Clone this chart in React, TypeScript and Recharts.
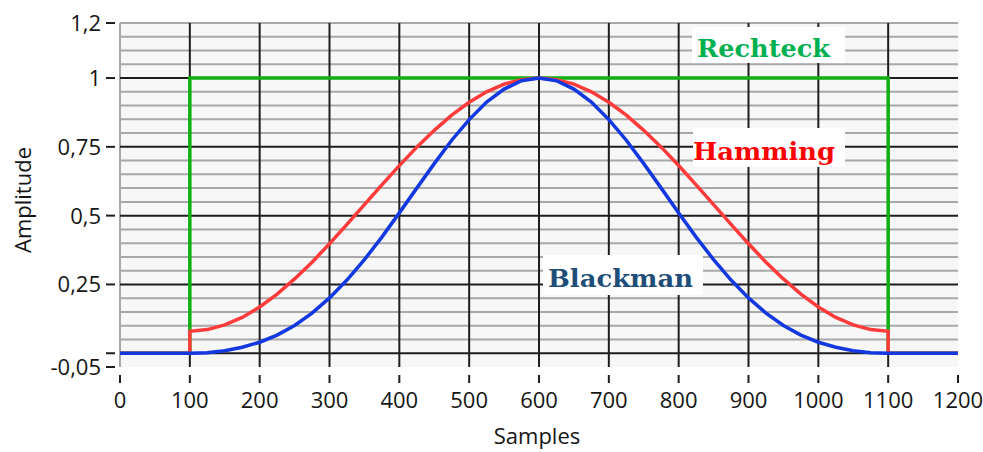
import React from 'react';
import { LineChart, Line, XAxis, YAxis, CartesianGrid } from 'recharts';

// ---- data ----
const xTicks = [0, 100, 200, 300, 400, 500, 600, 700, 800, 900, 1000, 1100, 1200];
const yTicks = [-0.05, 0, 0.25, 0.5, 0.75, 1, 1.2];
const minorY = [0.05, 0.1, 0.15, 0.2, 0.3, 0.35, 0.4, 0.45, 0.55, 0.6, 0.65, 0.7, 0.8, 0.85, 0.9, 0.95, 1.05, 1.1, 1.15, 1.2];
const majorY = [0, 0.25, 0.5, 0.75, 1];
const majorX = [100, 200, 300, 400, 500, 600, 700, 800, 900, 1000, 1100];

const rechteckX = [0, 100, 100, 1100, 1100, 1200];
const rechteckY = [0, 0, 1, 1, 0, 0];

const curveX = [100, 125, 150, 175, 200, 225, 250, 275, 300, 325, 350, 375, 400, 425, 450, 475, 500, 525, 550, 575, 600,
  625, 650, 675, 700, 725, 750, 775, 800, 825, 850, 875, 900, 925, 950, 975, 1000, 1025, 1050, 1075, 1100];
const hammingY = [0.08, 0.086, 0.103, 0.13, 0.168, 0.215, 0.27, 0.331, 0.398, 0.468, 0.54, 0.612, 0.682, 0.749, 0.81, 0.865, 0.912, 0.95, 0.978, 0.994, 1.0,
  0.994, 0.978, 0.95, 0.912, 0.865, 0.81, 0.749, 0.682, 0.612, 0.54, 0.468, 0.398, 0.331, 0.27, 0.215, 0.168, 0.13, 0.103, 0.086, 0.08];
const blackmanY = [0, 0.002, 0.009, 0.022, 0.04, 0.066, 0.101, 0.146, 0.201, 0.266, 0.34, 0.422, 0.51, 0.6, 0.689, 0.774, 0.849, 0.913, 0.96, 0.99, 1.0,
  0.99, 0.96, 0.913, 0.849, 0.774, 0.689, 0.6, 0.51, 0.422, 0.34, 0.266, 0.201, 0.146, 0.101, 0.066, 0.04, 0.022, 0.009, 0.002, 0];

const rechteckData = rechteckX.map((x, i) => ({ x, y: rechteckY[i] }));
const hammingData = [
  { x: 0, y: 0 }, { x: 100, y: 0 },
  ...curveX.map((x, i) => ({ x, y: hammingY[i] })),
  { x: 1100, y: 0 }, { x: 1200, y: 0 },
];
const blackmanData = [
  { x: 0, y: 0 },
  ...curveX.map((x, i) => ({ x, y: blackmanY[i] })),
  { x: 1200, y: 0 },
];

const FONT = '"Open Sans", "Noto Sans", sans-serif';
const TEXT = '#161616';

const XTick = (props: any) => {
  const { x, y, payload } = props;
  return (
    <g>
      <line x1={x} x2={x} y1={y + 8} y2={y + 16} stroke="#1e1e1e" strokeWidth={2} />
      <text x={x} y={y + 41} textAnchor="middle" fontSize={22} fontFamily={FONT} fill={TEXT}>
        {payload.value}
      </text>
    </g>
  );
};

const fmtY = (v: number) => (v === 0 ? '' : String(v).replace('.', ','));

const YTick = (props: any) => {
  const { x, y, payload } = props;
  return (
    <g>
      <line x1={x - 14} x2={x - 5} y1={y} y2={y} stroke="#1e1e1e" strokeWidth={2} />
      <text x={x - 19} y={y + 8} textAnchor="end" fontSize={22} fontFamily={FONT} fill={TEXT}>
        {fmtY(payload.value)}
      </text>
    </g>
  );
};

const labels = [
  { text: 'Rechteck', color: '#00b050', bx: 692, by: 27, bw: 153, bh: 36, tx: 697, ty: 57, tw: 133 },
  { text: 'Hamming', color: '#ff0000', bx: 693, by: 128, bw: 152, bh: 39, tx: 693, ty: 160, tw: 142 },
  { text: 'Blackman', color: '#1f4e79', bx: 543, by: 255, bw: 160, bh: 40, tx: 548, ty: 287, tw: 145 },
];

export default function App() {
  return (
    <div style={{ position: 'absolute', left: 0, top: 0, width: 983, height: 452, background: '#ffffff' }}>
      <LineChart width={983} height={452} margin={{ top: 23, right: 25, left: 0, bottom: 0 }}>
        <CartesianGrid
          fill="#f7f7f7"
          stroke="#a8a8a8"
          strokeWidth={2}
          horizontalValues={minorY}
          verticalValues={[0]}
        />
        <CartesianGrid
          stroke="#1e1e1e"
          strokeWidth={2}
          horizontalValues={majorY}
          verticalValues={majorX}
        />
        <XAxis
          type="number"
          dataKey="x"
          domain={[0, 1200]}
          ticks={xTicks}
          interval={0}
          height={85}
          tickSize={0}
          tickMargin={0}
          tickLine={false}
          axisLine={false}
          tick={XTick}
          allowDataOverflow
        />
        <YAxis
          type="number"
          dataKey="y"
          domain={[-0.05, 1.2]}
          ticks={yTicks}
          interval={0}
          width={120}
          tickSize={0}
          tickMargin={0}
          tickLine={false}
          axisLine={false}
          tick={YTick}
          allowDataOverflow
        />
        <Line data={rechteckData} dataKey="y" type="linear" stroke="#10b010" strokeWidth={3.5} dot={false} isAnimationActive={false} />
        <Line data={hammingData} dataKey="y" type="linear" stroke="#ff3b3b" strokeWidth={3.5} dot={false} isAnimationActive={false} />
        <Line data={blackmanData} dataKey="y" type="linear" stroke="#1438e0" strokeWidth={3.5} dot={false} isAnimationActive={false} />
      </LineChart>
      <svg width={983} height={452} style={{ position: 'absolute', left: 0, top: 0, pointerEvents: 'none' }}>
        {labels.map((l) => (
          <g key={l.text}>
            <rect x={l.bx} y={l.by} width={l.bw} height={l.bh} fill="#ffffff" />
            <text
              x={l.tx}
              y={l.ty}
              fontSize={25}
              fontWeight="bold"
              fontFamily='"DejaVu Serif", "Liberation Serif", serif'
              fill={l.color}
              textLength={l.tw}
              lengthAdjust="spacingAndGlyphs"
            >
              {l.text}
            </text>
          </g>
        ))}
        <text x={537} y={444} textAnchor="middle" fontSize={22} fontFamily={FONT} fill={TEXT}>
          Samples
        </text>
        <text
          x={22}
          y={200}
          textAnchor="middle"
          dominantBaseline="central"
          fontSize={22}
          fontFamily={FONT}
          fill={TEXT}
          transform="rotate(-90 22 200)"
        >
          Amplitude
        </text>
      </svg>
    </div>
  );
}
